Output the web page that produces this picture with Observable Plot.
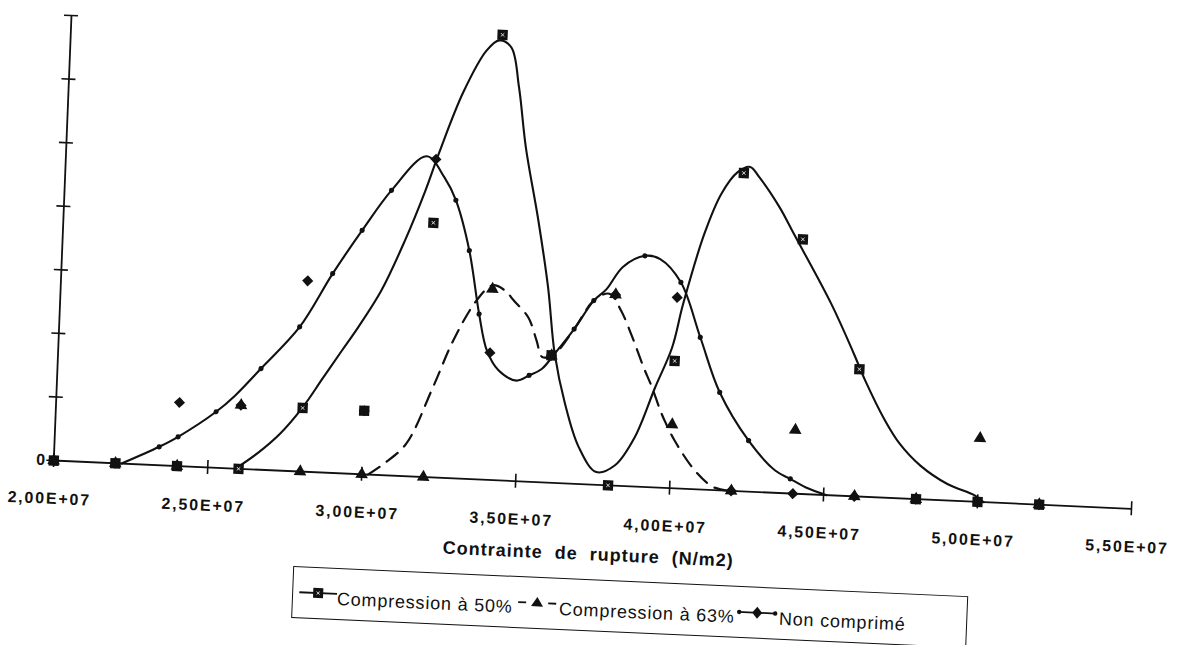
<!DOCTYPE html>
<html>
<head>
<meta charset="utf-8">
<script src="https://cdn.jsdelivr.net/npm/d3@7"></script>
<script src="https://cdn.jsdelivr.net/npm/@observablehq/plot@0.6"></script>
<style>
  html, body { margin: 0; padding: 0; background: #fff; overflow: hidden; }
  #page {
    position: relative; width: 1180px; height: 645px;
    transform: matrix(1, 0.0448, -0.0398, 1, 0, 0);
    transform-origin: 53.3px 460px;
    font-family: "Liberation Sans", Arial, sans-serif; color: #111;
  }
  #chart { position: absolute; left: 0; top: 0; }
  #xtitle {
    position: absolute; left: 391px; width: 400px; top: 520px;
    text-align: center; font-size: 18px; line-height: 20px; font-weight: bold;
    letter-spacing: 1px; word-spacing: 6px; white-space: nowrap;
  }
  #legend {
    position: absolute; left: 297px; top: 555px; width: 675px; height: 52px;
    box-sizing: border-box; border: 1.8px solid #111;
  }
  #legend .sym { position: absolute; top: 15px; height: 20px; }
  #legend .lab {
    position: absolute; top: 20px; font-size: 18px; line-height: 20px;
    letter-spacing: 0.8px; white-space: nowrap;
  }
</style>
</head>
<body>
<div id="page">
  <div id="chart"></div>
  <div id="xtitle"></div>
  <div id="legend"></div>
</div>
<script>
// ---- data ----
const xValues = [2.0e7, 2.2e7, 2.4e7, 2.6e7, 2.8e7, 3.0e7, 3.2e7, 3.4e7, 3.6e7, 3.8e7,
                 4.0e7, 4.2e7, 4.4e7, 4.6e7, 4.8e7, 5.0e7, 5.2e7];
const compression50 = [0, 0, 0, 0, 1, 1, 4, 7, 2, 0, 2, 5, 4, 2, 0, 0, 0];
const compression63 = [0, 0, 0, 1, 0, 0, 0, 3, 2, 3, 1, 0, 1, 0, 0, 1, 0];
const nonComprime   = [0, 0, 1, 1, 3, 1, 5, 2, 2, 3, 3, 0, 0, 0, 0, 0, 0];

// hand-drawn smoothing curves (x in units of 1E+07 N/m2)
const fit50X = [2.59,2.66,2.73,2.80,2.86,2.92,2.97,3.04,3.11,3.17,3.21,3.28,3.35,3.39,3.43,3.46,3.49,3.54,3.58,3.61,3.65,3.70,3.76,3.82,3.88,3.94,3.99,4.02,4.08,4.13,4.18,4.22,4.25,4.32,4.37,4.50,4.58,4.62,4.69,4.74,4.81,4.90,4.99,5.02];
const fit50Y = [0,0.26,0.58,1.01,1.47,1.93,2.31,2.90,3.70,4.50,5.11,6.07,6.74,6.91,6.81,6.19,5.25,4.11,3.07,2.03,1.25,0.58,0.20,0.32,0.77,1.57,2.21,2.90,4.02,4.66,5.01,5.10,4.95,4.49,4.08,3.01,2.24,1.83,1.21,0.86,0.53,0.26,0.10,0];
const fit63X = [3.02,3.07,3.14,3.22,3.28,3.35,3.40,3.44,3.47,3.52,3.55,3.57,3.61,3.67,3.73,3.78,3.82,3.86,3.90,3.93,3.96,3.98,4.01,4.08,4.14,4.19];
const fit63Y = [0,0.18,0.51,1.42,2.17,2.81,3.06,2.99,2.84,2.58,2.22,1.97,2.03,2.43,2.89,3.01,2.75,2.34,1.88,1.57,1.21,1.01,0.75,0.29,0.05,0];
const fitNCX = [2.22,2.34,2.40,2.52,2.58,2.66,2.78,2.88,2.97,3.06,3.17,3.23,3.27,3.32,3.36,3.39,3.43,3.49,3.53,3.57,3.61,3.67,3.73,3.77,3.82,3.89,3.94,4.01,4.08,4.15,4.25,4.34,4.39,4.44,4.51];
const fitNCY = [0,0.29,0.46,0.88,1.15,1.59,2.27,3.13,3.83,4.48,5.04,4.72,4.37,3.59,2.60,2.03,1.73,1.58,1.67,1.78,2.03,2.43,2.89,3.08,3.44,3.63,3.59,3.24,2.39,1.54,0.80,0.35,0.23,0.11,0];
// small dots drawn along the "Non comprimé" curve
const dotNCX = [2.34,2.40,2.52,2.66,2.78,2.88,2.97,3.06,3.27,3.32,3.36,3.53,3.67,3.73,3.89,4.01,4.08,4.15,4.25,4.39];
const dotNCY = [0.29,0.46,0.88,1.59,2.27,3.13,3.83,4.48,4.37,3.59,2.60,1.67,2.43,2.89,3.63,3.24,2.39,1.54,0.80,0.23];

const xTicks = [2.0e7, 2.5e7, 3.0e7, 3.5e7, 4.0e7, 4.5e7, 5.0e7, 5.5e7];
const xTickLabels = ["2,00E+07","2,50E+07","3,00E+07","3,50E+07","4,00E+07","4,50E+07","5,00E+07","5,50E+07"];
const yTicks = [0, 1, 2, 3, 4, 5, 6, 7];
const yTickLabels = ["0", "", "", "", "", "", "", ""];
const xTitle = "Contrainte de rupture (N/m2)";
const seriesNames = ["Compression à 50%", "Compression à 63%", "Non comprimé"];

// ---- tables ----
const pts = (ys) => xValues.map((x, i) => ({x, y: ys[i]}));
const curve = (xs, ys) => xs.map((x, i) => ({x: x * 1e7, y: ys[i]}));
const ink = "#111";

const chart = Plot.plot({
  width: 1180, height: 520,
  marginLeft: 53.3, marginRight: 49, marginTop: 15, marginBottom: 60,
  style: "font-family: 'Liberation Sans', Arial, sans-serif; font-size: 16px; font-weight: bold; letter-spacing: 1.8px; color: #111; background: transparent; overflow: visible;",
  x: {domain: [2.0e7, 5.5e7]},
  y: {domain: [0, 7]},
  marks: [
    // axis lines
    Plot.ruleY([0], {stroke: ink, strokeWidth: 1.8}),
    Plot.ruleX([2.0e7], {stroke: ink, strokeWidth: 1.8}),
    // crossing ticks
    Plot.axisX({ticks: xTicks, tickSize: 14, dy: -7, tickFormat: () => "", label: null, stroke: ink, strokeWidth: 1.6}),
    Plot.axisY({ticks: yTicks, tickSize: 14, dx: 7, tickFormat: () => "", label: null, stroke: ink, strokeWidth: 1.6}),
    // tick labels
    Plot.axisX({ticks: xTicks, tickSize: 0, tickPadding: 32, dx: -3, tickFormat: (d, i) => xTickLabels[i], label: null, fill: ink}),
    Plot.axisY({ticks: yTicks, tickSize: 0, tickPadding: 7, tickFormat: (d, i) => yTickLabels[i], label: null, fill: ink}),
    // curves
    Plot.line(curve(fit50X, fit50Y), {x: "x", y: "y", curve: "catmull-rom", stroke: ink, strokeWidth: 2.1}),
    Plot.line(curve(fitNCX, fitNCY), {x: "x", y: "y", curve: "catmull-rom", stroke: ink, strokeWidth: 2.1}),
    Plot.dot(curve(dotNCX, dotNCY), {x: "x", y: "y", r: 2.6, fill: ink}),
    Plot.line(curve(fit63X, fit63Y), {x: "x", y: "y", curve: "catmull-rom", stroke: ink, strokeWidth: 2.2, strokeDasharray: "14,9"}),
    // data markers
    Plot.dot(pts(compression50), {x: "x", y: "y", symbol: "square", r: 5.8, fill: ink}),
    Plot.dot(pts(compression50), {x: "x", y: "y", symbol: "times", r: 1.7, stroke: "#fff", strokeWidth: 0.8}),
    Plot.dot(pts(compression63), {x: "x", y: "y", symbol: "triangle", r: 4.7, fill: ink}),
    Plot.dot(pts(nonComprime), {x: "x", y: "y", symbol: "diamond2", r: 5, fill: ink})
  ]
});
document.getElementById("chart").appendChild(chart);
document.getElementById("xtitle").textContent = xTitle;

// ---- legend ----
const sym50 = `<svg class="sym" style="left:6px" width="38" height="20"><line x1="0" y1="10" x2="38" y2="10" stroke="${ink}" stroke-width="1.8"/><rect x="14" y="5" width="10" height="10" fill="${ink}"/><path d="M17.5,8.5 L20.5,11.5 M20.5,8.5 L17.5,11.5" stroke="#fff" stroke-width="0.8"/></svg>`;
const sym63 = `<svg class="sym" style="left:222px" width="44" height="20"><line x1="3" y1="10" x2="11" y2="10" stroke="${ink}" stroke-width="1.8"/><line x1="33" y1="10" x2="41" y2="10" stroke="${ink}" stroke-width="1.8"/><path d="M22,4 L28,13.5 L16,13.5 Z" fill="${ink}"/></svg>`;
const symNC = `<svg class="sym" style="left:442px" width="44" height="20"><line x1="3" y1="10" x2="41" y2="10" stroke="${ink}" stroke-width="1.8"/><circle cx="4" cy="10" r="2.2" fill="${ink}"/><circle cx="40" cy="10" r="2.2" fill="${ink}"/><path d="M22,4 L27,10 L22,16 L17,10 Z" fill="${ink}"/></svg>`;
const legend = document.getElementById("legend");
legend.innerHTML = sym50 + `<div class="lab" style="left:44px"></div>` +
                   sym63 + `<div class="lab" style="left:266px"></div>` +
                   symNC + `<div class="lab" style="left:486px"></div>`;
legend.querySelectorAll(".lab").forEach((el, i) => el.textContent = seriesNames[i]);
</script>
</body>
</html>
